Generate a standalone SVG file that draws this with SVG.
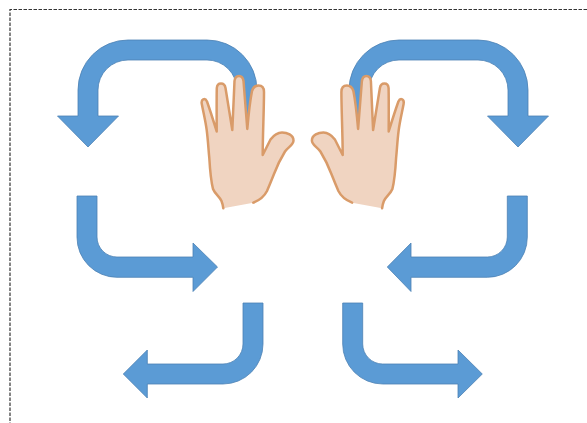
<svg xmlns="http://www.w3.org/2000/svg" xmlns:xlink="http://www.w3.org/1999/xlink" width="587" height="423" viewBox="0 0 587 423">
<style>
.arrow{fill:#5B9BD5;stroke:#4C82B4;stroke-width:.8;stroke-linejoin:miter}
.hand{fill:#F0D4C1;stroke:#D99B69;stroke-width:2.500;stroke-linejoin:round;stroke-linecap:round}
.frame{fill:none;stroke:#333;stroke-width:1.200;stroke-dasharray:3.500 1.500}
</style>
<defs>
<path id="handShape" class="hand" d="M253.3 202.7C260 200 265 195 267 191C270 184 272 179 274 174C277 166 281 158 285 151.5C288 147 293.500 145 293.500 140.500C293.500 135 287 132.500 282 132.500C277 132.500 273.500 135.500 270.500 139.500L262.7 155C262.7 135 264 110 264 92C264 87 261 85.5 258.5 85.5C255 85.5 253 88 252 91C250 101 248.5 115 247.3 129C246 112 244.5 95 243.5 81C243 77.5 241 76 239 76C236.5 76 234.8 78 234.5 81C233.8 97 233 115 232.3 130C230 115 227.5 100 225.5 88C225 85 223 83.5 221 83.5C218.5 83.5 217 85.5 216.8 88C216.5 102 216.7 118 216.7 131.5C213.5 121 210 110 207 101.5C206 99.3 204.5 98.8 203.2 99.3C201.8 100 201.4 102 201.8 104C203.5 113 205.5 121 206.7 130C208 140 208.5 150 209.3 158C210 170 211 181 213 189C215 194 220 197 221.5 201C222.5 203.5 223 206 223.3 208.3"/>
</defs>
<path class="frame" d="M587 9.500H10V423"/>
<g id="connectors">
<g id="arrow-top-left"><path class="arrow" d="M257 122V90A50 50 0 0 0 207 40H128A50 50 0 0 0 78 90V116H57.500L88 147L118.500 116H98V90A30 30 0 0 1 128 60H207A30 30 0 0 1 237 90V122Z"/></g>
<g id="arrow-top-right"><path class="arrow" d="M349 122V90A50 50 0 0 1 399 40H478A50 50 0 0 1 528 90V116H548.500L518 147L487.500 116H508V90A30 30 0 0 0 478 60H399A30 30 0 0 0 369 90V122Z"/></g>
<g id="arrow-mid-left"><path class="arrow" d="M77 196H97V237A20 20 0 0 0 117 257H193V243L217.500 267L193 291.500V277.300H117A40 40 0 0 1 77 237Z"/></g>
<g id="arrow-mid-right"><path class="arrow" d="M527.300 196H507.300V237A20 20 0 0 1 487.300 257H411V243L387.300 267L411 291.500V277.300H487.300A40 40 0 0 0 527.300 237Z"/></g>
<g id="arrow-low-left"><path class="arrow" d="M263 303H243V344A20 20 0 0 1 223 364H147.300V350L123.300 374L147.300 398V384H223A40 40 0 0 0 263 344Z"/></g>
<g id="arrow-low-right"><path class="arrow" d="M342.700 303H362.700V344A20 20 0 0 0 382.700 364H458V350L482.300 374L458 398V384H382.700A40 40 0 0 1 342.700 344Z"/></g>
</g>
<g id="hand-left"><use xlink:href="#handShape" href="#handShape"/></g>
<g id="hand-right"><use xlink:href="#handShape" href="#handShape" transform="translate(605.400 0) scale(-1 1)"/></g>
</svg>
